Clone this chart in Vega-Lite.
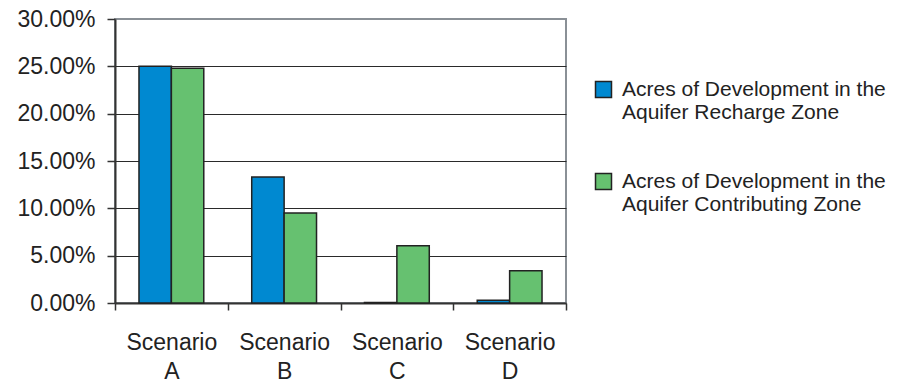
{
  "$schema": "https://vega.github.io/schema/vega-lite/v6.json",
  "width": 451,
  "height": 284,
  "autosize": {"type": "none"},
  "padding": {"left": 115, "top": 19, "right": 336, "bottom": 80},
  "background": "white",
  "config": {
    "font": "Liberation Sans",
    "view": {"stroke": "#8a9096", "strokeWidth": 2}
  },
  "data": {
    "values": [
      {"scenario": "Scenario A", "series": "Acres of Development in the Aquifer Recharge Zone", "value": 0.250},
      {"scenario": "Scenario A", "series": "Acres of Development in the Aquifer Contributing Zone", "value": 0.248},
      {"scenario": "Scenario B", "series": "Acres of Development in the Aquifer Recharge Zone", "value": 0.133},
      {"scenario": "Scenario B", "series": "Acres of Development in the Aquifer Contributing Zone", "value": 0.095},
      {"scenario": "Scenario C", "series": "Acres of Development in the Aquifer Recharge Zone", "value": 0.0005},
      {"scenario": "Scenario C", "series": "Acres of Development in the Aquifer Contributing Zone", "value": 0.0605},
      {"scenario": "Scenario D", "series": "Acres of Development in the Aquifer Recharge Zone", "value": 0.0028},
      {"scenario": "Scenario D", "series": "Acres of Development in the Aquifer Contributing Zone", "value": 0.034}
    ]
  },
  "mark": {"type": "bar", "stroke": "#222222", "strokeWidth": 1.5},
  "encoding": {
    "x": {
      "field": "scenario",
      "type": "nominal",
      "scale": {"paddingInner": 0, "paddingOuter": 0},
      "axis": {
        "title": null,
        "labelAngle": 0,
        "labelExpr": "split(datum.label, ' ')",
        "labelFontSize": 23,
        "labelColor": "#222222",
        "labelLineHeight": 29,
        "labelPadding": 21,
        "labelBaseline": "top",
        "tickBand": "extent",
        "tickSize": 7,
        "tickColor": "#333333",
        "tickWidth": 1.5,
        "domainColor": "#333333",
        "domainWidth": 2
      }
    },
    "xOffset": {
      "field": "series",
      "type": "nominal",
      "sort": ["Acres of Development in the Aquifer Recharge Zone", "Acres of Development in the Aquifer Contributing Zone"],
      "scale": {"paddingInner": 0, "paddingOuter": 0.74}
    },
    "y": {
      "field": "value",
      "type": "quantitative",
      "scale": {"domain": [0, 0.3], "nice": false},
      "axis": {
        "title": null,
        "format": ".2%",
        "values": [0, 0.05, 0.1, 0.15, 0.2, 0.25, 0.3],
        "labelFontSize": 23,
        "labelColor": "#222222",
        "labelPadding": 12,
        "tickSize": 8,
        "tickColor": "#333333",
        "tickWidth": 1.5,
        "domainColor": "#333333",
        "domainWidth": 2,
        "grid": true,
        "gridColor": {"condition": {"test": "datum.value > 0.29 || datum.value < 0.01", "value": "transparent"}, "value": "#2a2a2a"},
        "gridWidth": 1.2
      }
    },
    "color": {
      "field": "series",
      "type": "nominal",
      "sort": ["Acres of Development in the Aquifer Recharge Zone", "Acres of Development in the Aquifer Contributing Zone"],
      "scale": {"range": ["#0089d1", "#66c170"]},
      "legend": {
        "title": null,
        "orient": "none",
        "legendX": 478,
        "legendY": 60,
        "padding": 0,
        "symbolType": "square",
        "symbolSize": 256,
        "symbolStrokeColor": "#222222",
        "symbolStrokeWidth": 1.5,
        "symbolOpacity": 1,
        "labelExpr": "[slice(datum.label, 0, 27), slice(datum.label, 28)]",
        "labelFontSize": 21,
        "labelColor": "#222222",
        "labelLineHeight": 26,
        "labelLimit": 400,
        "labelOffset": 8,
        "rowPadding": 47
      }
    }
  }
}
